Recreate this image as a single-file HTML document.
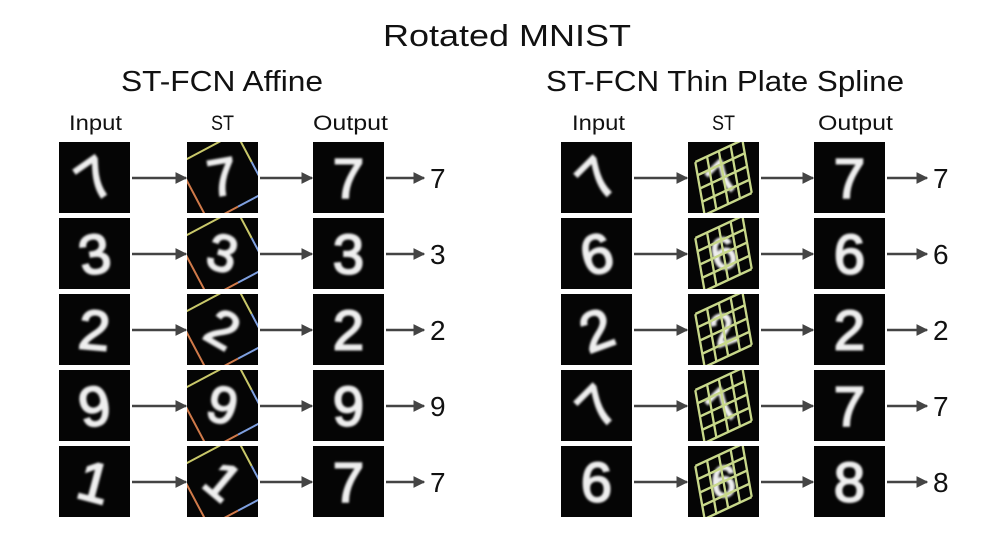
<!DOCTYPE html>
<html><head><meta charset="utf-8"><style>
html,body{margin:0;padding:0;background:#fff}
svg{display:block}
</style></head><body>
<svg id="fig" width="997" height="540" viewBox="0 0 997 540" xmlns="http://www.w3.org/2000/svg" font-family="'Liberation Sans', sans-serif">
<defs>
<filter id="blur" x="-20%" y="-20%" width="140%" height="140%"><feGaussianBlur stdDeviation="1.1"/></filter>
<marker id="ah" viewBox="0 0 10 10" refX="9" refY="5" markerWidth="4.5" markerHeight="4.5" orient="auto"><path d="M0,0 L10,5 L0,10 z" fill="#444"/></marker>
</defs>
<text x="507" y="46" font-size="31" text-anchor="middle" fill="#111" textLength="248" lengthAdjust="spacingAndGlyphs">Rotated MNIST</text>
<text x="121" y="91" font-size="29" fill="#111" textLength="202" lengthAdjust="spacingAndGlyphs">ST-FCN Affine</text>
<text x="546" y="91" font-size="29" fill="#111" textLength="358" lengthAdjust="spacingAndGlyphs">ST-FCN Thin Plate Spline</text>
<g id="content"></g>
</svg>
<script>
const leftInputs=['7','3','2','9','1'];
const leftInRot=[-35,-10,5,-10,15];
const leftOutputs=['7','3','2','9','7'];
const leftLabels=['7','3','2','9','7'];
const rightInputs=['7','6','2','7','6'];
const rightInRot=[-45,-15,-20,-45,0];
const rightOutputs=['7','6','2','7','8'];
const rightLabels=['7','6','2','7','8'];
const rowsY=[142,218,294,370,446];
const NS='http://www.w3.org/2000/svg';
const g=document.getElementById('content');
function el(tag,attrs,parent){const e=document.createElementNS(NS,tag);for(const k in attrs)e.setAttribute(k,attrs[k]);(parent||g).appendChild(e);return e;}
function header(x,y,w,t,name){const e=el('text',{x:x,y:y,'font-size':21,fill:'#111',textLength:w,lengthAdjust:'spacingAndGlyphs'});e.textContent=t;

}
header(69,130,53,'Input','affine-input-header');header(211,130,23,'ST','affine-st-header');header(313,130,75,'Output','affine-output-header');
header(572,130,53,'Input','tps-input-header');header(712,130,23,'ST','tps-st-header');header(818,130,75,'Output','tps-output-header');
function box(x,y,name){const r=el('rect',{x:x,y:y,width:71,height:71,fill:'#050505'});

}
function digit(x,y,d,rot,name,size){const t=el('text',{x:x+35.5,y:y+36,'font-size':size||56,fill:'#eeeeee',stroke:'#eeeeee','stroke-width':2,'text-anchor':'middle','dominant-baseline':'central',filter:'url(#blur)',transform:`rotate(${rot} ${x+35.5} ${y+35.5})`});t.textContent=d;

}
function arrow(x1,x2,y,name){const l=el('line',{x1:x1,y1:y,x2:x2,y2:y,stroke:'#444','stroke-width':2.6,'marker-end':'url(#ah)'});

}
function affineFrame(x,y,rot,name){const cx=x+35.5,cy=y+35.5,s=33;const gg=el('g',{transform:`rotate(${rot} ${cx} ${cy})`,'stroke-width':2,fill:'none'});


el('line',{x1:cx-s,y1:cy-s,x2:cx+s,y2:cy-s,stroke:'#c9c86a'},gg);
el('line',{x1:cx+s,y1:cy-s,x2:cx+s,y2:cy,stroke:'#c9c86a'},gg);
el('line',{x1:cx-s,y1:cy-s,x2:cx-s,y2:cy+s,stroke:'#d07a4a'},gg);
el('line',{x1:cx-s,y1:cy+s,x2:cx,y2:cy+s,stroke:'#d07a4a'},gg);
el('line',{x1:cx+s,y1:cy,x2:cx+s,y2:cy+s,stroke:'#7fa0e0'},gg);
el('line',{x1:cx,y1:cy+s,x2:cx+s,y2:cy+s,stroke:'#7fa0e0'},gg);}
function tpsGrid(x,y,rot,name){const cx=x+35.5,cy=y+35.5,s=26;const gg=el('g',{transform:`translate(${cx} ${cy}) rotate(${rot}) skewX(-15)`,stroke:'#c8d88a','stroke-width':2.4,fill:'none'});


for(let i=0;i<=4;i++){const o=-s+i*s/2;el('line',{x1:-s,y1:o,x2:s,y2:o},gg);el('line',{x1:o,y1:-s,x2:o,y2:s},gg);}}
function clip(id,x,y){const c=el('clipPath',{id:id});el('rect',{x:x,y:y,width:71,height:71},c);}
function panel(side,xs,inputs,inRot,outputs,labels,labelX){
 rowsY.forEach((y,i)=>{
  box(xs[0],y,`${side}-input-${i+1}`);digit(xs[0],y,inputs[i],inRot[i],`${side}-input-digit-${i+1}`);
  arrow(xs[0]+73,xs[1]-1,y+36,`${side}-arrow-in-${i+1}`);
  box(xs[1],y,`${side}-st-${i+1}`);
  const cid=`${side}clip${i}`;clip(cid,xs[1],y);
  const cg=el('g',{'clip-path':`url(#${cid})`});
  if(side==='affine'){digit(xs[1],y,inputs[i],inRot[i]+25,`${side}-st-digit-${i+1}`,52);}
  else{digit(xs[1],y,inputs[i],inRot[i],`${side}-st-digit-${i+1}`,44);}
  cg.appendChild(g.lastChild);
  if(side==='affine'){affineFrame(xs[1],y,-28,`${side}-st-frame-${i+1}`);}else{tpsGrid(xs[1],y,-25,`${side}-st-grid-${i+1}`);}
  cg.appendChild(g.lastChild);
  arrow(xs[1]+73,xs[2]-1,y+36,`${side}-arrow-mid-${i+1}`);
  box(xs[2],y,`${side}-output-${i+1}`);digit(xs[2],y,outputs[i],0,`${side}-output-digit-${i+1}`);
  arrow(xs[2]+73,labelX-6,y+36,`${side}-arrow-out-${i+1}`);
  const t=el('text',{x:labelX,y:y+46,'font-size':28,fill:'#111'});t.textContent=labels[i];
  
  
 });
}
panel('affine',[59,187,313],leftInputs,leftInRot,leftOutputs,leftLabels,430);
panel('tps',[561,688,814],rightInputs,rightInRot,rightOutputs,rightLabels,933);
</script>
</body></html>
